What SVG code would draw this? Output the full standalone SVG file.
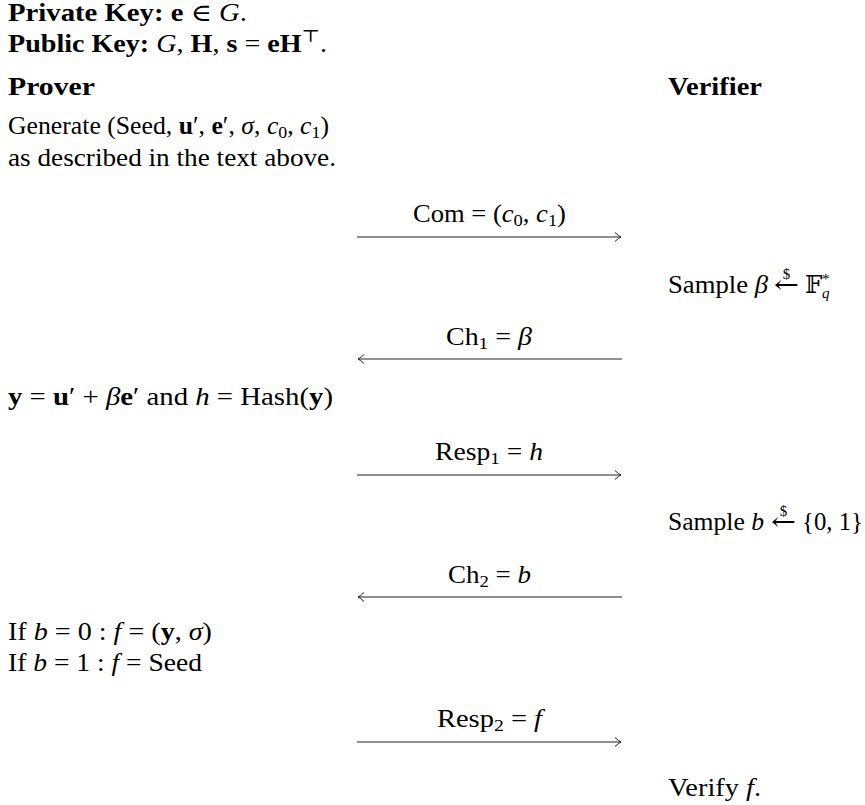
<svg xmlns="http://www.w3.org/2000/svg" width="865" height="805" viewBox="0 0 865 805">
<style>
text{font-family:"Liberation Serif","Times New Roman",serif;font-size:24.5px;fill:#000}
.b{font-weight:bold}
.i{font-style:italic}
.s{font-size:17px}
.ss{font-size:15px}
.sym{font-family:"DejaVu Serif","DejaVu Sans",serif}
.msg{stroke:#222;stroke-width:1;fill:none}
</style>
<defs>
<marker id="head" markerUnits="userSpaceOnUse" markerWidth="10" markerHeight="12" refX="0" refY="0" viewBox="-8 -6 10 12" orient="auto"><path d="M-6,-4.5 Q-2.5,-1 0,0 Q-2.5,1 -6,4.5" fill="none" stroke="#222" stroke-width="1"/></marker>
</defs>
<rect width="865" height="805" fill="#fff"/>

<g id="keys">
<text x="8" y="21" textLength="239" lengthAdjust="spacingAndGlyphs"><tspan class="b">Private Key: e</tspan> <tspan class="sym">∈</tspan> <tspan class="i">G</tspan>.</text>
<text x="8" y="52" textLength="319" lengthAdjust="spacingAndGlyphs"><tspan class="b">Public Key: </tspan><tspan class="i">G</tspan>, <tspan class="b">H</tspan>, <tspan class="b">s</tspan> = <tspan class="b">eH</tspan><tspan class="s sym" dy="-10">⊤</tspan><tspan dy="10">.</tspan></text>
</g>

<g id="prover">
<text x="8" y="95" class="b" textLength="87" lengthAdjust="spacingAndGlyphs">Prover</text>
<text x="8" y="134" textLength="321" lengthAdjust="spacingAndGlyphs">Generate (Seed, <tspan class="b">u</tspan>′, <tspan class="b">e</tspan>′, <tspan class="i">σ</tspan>, <tspan class="i">c</tspan><tspan class="s" dy="4">0</tspan><tspan dy="-4">, </tspan><tspan class="i">c</tspan><tspan class="s" dy="4">1</tspan><tspan dy="-4">)</tspan></text>
<text x="8" y="166" textLength="328" lengthAdjust="spacingAndGlyphs">as described in the text above.</text>
<text x="8" y="405" textLength="325" lengthAdjust="spacingAndGlyphs"><tspan class="b">y</tspan> = <tspan class="b">u</tspan>′ + <tspan class="i">β</tspan><tspan class="b">e</tspan>′ and <tspan class="i">h</tspan> = Hash(<tspan class="b">y</tspan>)</text>
<text x="8" y="640" textLength="204" lengthAdjust="spacingAndGlyphs">If <tspan class="i">b</tspan> = 0 : <tspan class="i">f</tspan> = (<tspan class="b">y</tspan>, <tspan class="i">σ</tspan>)</text>
<text x="8" y="671" textLength="194" lengthAdjust="spacingAndGlyphs">If <tspan class="i">b</tspan> = 1 : <tspan class="i">f</tspan> = Seed</text>
</g>

<g id="verifier">
<text x="668" y="95" class="b" textLength="94" lengthAdjust="spacingAndGlyphs">Verifier</text>
<g id="sample-beta">
<text x="668" y="293" textLength="100" lengthAdjust="spacingAndGlyphs">Sample <tspan class="i">β</tspan></text>
<text x="774" y="293" class="sym" textLength="25" lengthAdjust="spacingAndGlyphs">←</text>
<text x="786.5" y="279" class="ss" text-anchor="middle">$</text>
<text x="805" y="293" class="sym" font-size="23">𝔽</text>
<text x="822" y="284" class="ss">*</text>
<text x="822" y="298" class="ss i">q</text>
</g>
<g id="sample-b">
<text x="668" y="530" textLength="96" lengthAdjust="spacingAndGlyphs">Sample <tspan class="i">b</tspan></text>
<text x="771" y="530" class="sym" textLength="25" lengthAdjust="spacingAndGlyphs">←</text>
<text x="783.5" y="516" class="ss" text-anchor="middle">$</text>
<text x="802" y="530" textLength="61" lengthAdjust="spacingAndGlyphs">{0, 1}</text>
</g>
<text x="668" y="796" textLength="93" lengthAdjust="spacingAndGlyphs">Verify <tspan class="i">f</tspan>.</text>
</g>

<g id="connectors">
<path class="msg" d="M357,237 H621" marker-end="url(#head)"/>
<path class="msg" d="M622,359 H358" marker-end="url(#head)"/>
<path class="msg" d="M357,475 H621" marker-end="url(#head)"/>
<path class="msg" d="M622,597 H358" marker-end="url(#head)"/>
<path class="msg" d="M357,742 H621" marker-end="url(#head)"/>
<text x="413" y="222" textLength="153" lengthAdjust="spacingAndGlyphs">Com = (<tspan class="i">c</tspan><tspan class="s" dy="4">0</tspan><tspan dy="-4">, </tspan><tspan class="i">c</tspan><tspan class="s" dy="4">1</tspan><tspan dy="-4">)</tspan></text>
<text x="446" y="345" textLength="86" lengthAdjust="spacingAndGlyphs">Ch<tspan class="s" dy="4">1</tspan><tspan dy="-4"> = </tspan><tspan class="i">β</tspan></text>
<text x="435" y="460" textLength="108" lengthAdjust="spacingAndGlyphs">Resp<tspan class="s" dy="4">1</tspan><tspan dy="-4"> = </tspan><tspan class="i">h</tspan></text>
<text x="448" y="583" textLength="83" lengthAdjust="spacingAndGlyphs">Ch<tspan class="s" dy="4">2</tspan><tspan dy="-4"> = </tspan><tspan class="i">b</tspan></text>
<text x="437" y="727" textLength="105" lengthAdjust="spacingAndGlyphs">Resp<tspan class="s" dy="4">2</tspan><tspan dy="-4"> = </tspan><tspan class="i">f</tspan></text>
</g>
</svg>
